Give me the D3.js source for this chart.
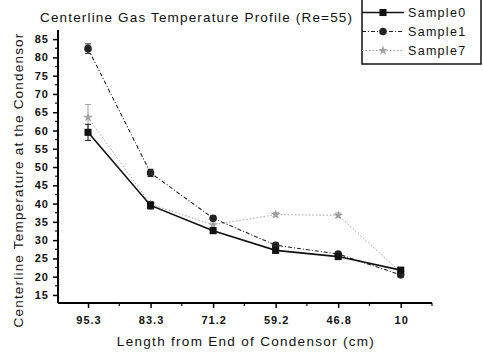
<!DOCTYPE html>
<html>
<head>
<meta charset="utf-8">
<script src="https://cdn.jsdelivr.net/npm/d3@7"></script>
<style>
  body { margin: 0; background: #fff; }
  text { font-family: "Liberation Sans", Arial, sans-serif; fill: #111; }
</style>
</head>
<body>
<div id="chart"></div>
<script>
// data
const lengths = ["95.3", "83.3", "71.2", "59.2", "46.8", "10"];
const sample0 = [59.5, 39.5, 32.6, 27.2, 25.5, 21.8];
const sample1 = [82.4, 48.4, 36.0, 28.6, 26.2, 20.5];
const sample7 = [63.6, 39.8, 34.2, 37.0, 36.8, 21.2];
const err0 = [2.2, 1.0, 0.8, 0.6, 0.6, 0.6];
const err1 = [1.3, 1.0, 0.6, 0.6, 0.6, 0.6];
const err7 = [3.5, 0.8, 0.8, 0.6, 0.6, 0.6];
const yTicks = [15, 20, 25, 30, 35, 40, 45, 50, 55, 60, 65, 70, 75, 80, 85];

const W = 483, H = 352;
const svg = d3.select("#chart").append("svg")
  .attr("width", W).attr("height", H);

// plot area
const plotL = 58, plotR = 432, plotT = 30, plotB = 303;

const x = d3.scaleLinear().domain([-0.48, 5.5]).range([plotL, plotR]);
const y = d3.scaleLinear().domain([12.8, 87.5]).range([plotB, plotT]);

// y axis
const yAxis = svg.append("g")
  .attr("transform", `translate(${plotL},0)`)
  .call(d3.axisLeft(y).tickValues(yTicks).tickSize(5).tickPadding(4));
yAxis.select(".domain").attr("stroke-width", 2).attr("d", `M0,${plotT}V${plotB}`);
yAxis.selectAll(".tick line").attr("stroke-width", 1.5);
yAxis.selectAll("text").attr("font-size", 11).attr("font-weight", "bold")
  .attr("letter-spacing", 1);
// minor y ticks
svg.append("g").selectAll("line")
  .data(yTicks.map(v => v + 2.5).filter(v => v < 87.5))
  .join("line")
  .attr("x1", plotL - 3).attr("x2", plotL)
  .attr("y1", d => y(d)).attr("y2", d => y(d))
  .attr("stroke", "#111").attr("stroke-width", 1.2);

// x axis
const xAxis = svg.append("g")
  .attr("transform", `translate(0,${plotB})`)
  .call(d3.axisBottom(x).tickValues(d3.range(lengths.length))
    .tickFormat(i => lengths[i]).tickSize(5).tickPadding(8));
xAxis.select(".domain").attr("stroke-width", 2).attr("d", `M${plotL},0H${plotR}`);
xAxis.selectAll(".tick line").attr("stroke-width", 1.5);
xAxis.selectAll("text").attr("font-size", 11).attr("font-weight", "bold")
  .attr("letter-spacing", 1).attr("dx", 0.5);
// minor x ticks
svg.append("g").selectAll("line")
  .data(d3.range(lengths.length).map(i => i + 0.5))
  .join("line")
  .attr("x1", d => x(d)).attr("x2", d => x(d))
  .attr("y1", plotB).attr("y2", plotB + 3)
  .attr("stroke", "#111").attr("stroke-width", 1.2);

const series = [
  { name: "Sample0", vals: sample0, err: err0, color: "#111", width: 1.6, dash: null, marker: "square", opacity: 1 },
  { name: "Sample1", vals: sample1, err: err1, color: "#222", width: 1.1, dash: "4,2,1,2", marker: "circle", opacity: 1 },
  { name: "Sample7", vals: sample7, err: err7, color: "#999", width: 1, dash: "1.5,2", marker: "star", opacity: 0.9 }
];

const line = d3.line().x((d, i) => x(i)).y(d => y(d));
const sym = {
  square: d3.symbol().type(d3.symbolSquare).size(50),
  circle: d3.symbol().type(d3.symbolCircle).size(45),
  star: d3.symbol().type(d3.symbolStar).size(30)
};

series.slice().reverse().forEach(s => {
  const g = svg.append("g").attr("opacity", s.opacity);
  g.append("path").datum(s.vals)
    .attr("d", line).attr("fill", "none")
    .attr("stroke", s.color).attr("stroke-width", s.width)
    .attr("stroke-dasharray", s.dash);
  // error bars
  g.selectAll(".eb").data(s.vals).join("path")
    .attr("d", (d, i) => {
      const xi = x(i), y1 = y(d + s.err[i]), y2 = y(d - s.err[i]);
      return `M${xi},${y1}V${y2}M${xi - 3},${y1}H${xi + 3}M${xi - 3},${y2}H${xi + 3}`;
    })
    .attr("fill", "none").attr("stroke", s.color).attr("stroke-width", 1);
  g.selectAll(".mk").data(s.vals).join("path")
    .attr("transform", (d, i) => `translate(${x(i)},${y(d)})`)
    .attr("d", sym[s.marker])
    .attr("fill", s.color);
});

// title
svg.append("text")
  .attr("x", 40).attr("y", 22)
  .attr("font-size", 13.5)
  .attr("textLength", 312)
  .attr("lengthAdjust", "spacing")
  .text("Centerline Gas Temperature Profile (Re=55)");

// axis labels
svg.append("text")
  .attr("transform", `translate(23,180) rotate(-90)`)
  .attr("text-anchor", "middle")
  .attr("font-size", 13.5)
  .attr("letter-spacing", 1.2)
  .text("Centerline Temperature at the Condensor");
svg.append("text")
  .attr("x", 246).attr("y", 346)
  .attr("text-anchor", "middle")
  .attr("font-size", 13.5)
  .attr("letter-spacing", 1.3)
  .text("Length from End of Condensor (cm)");

// legend
const lg = svg.append("g");
lg.append("rect")
  .attr("x", 362).attr("y", -2).attr("width", 119).attr("height", 66)
  .attr("fill", "#fff").attr("stroke", "#111").attr("stroke-width", 1.5);
series.forEach((s, i) => {
  const ly = 12.5 + i * 19;
  const r = lg.append("g").attr("opacity", s.opacity);
  r.append("line")
    .attr("x1", 362).attr("x2", 404).attr("y1", ly).attr("y2", ly)
    .attr("stroke", s.color).attr("stroke-width", s.width)
    .attr("stroke-dasharray", s.dash);
  r.append("path")
    .attr("transform", `translate(383,${ly})`)
    .attr("d", sym[s.marker]).attr("fill", s.color);
  lg.append("text")
    .attr("x", 408).attr("y", ly + 4.5)
    .attr("font-size", 12.5)
    .attr("letter-spacing", 1.3)
    .text(s.name);
});
</script>
</body>
</html>
